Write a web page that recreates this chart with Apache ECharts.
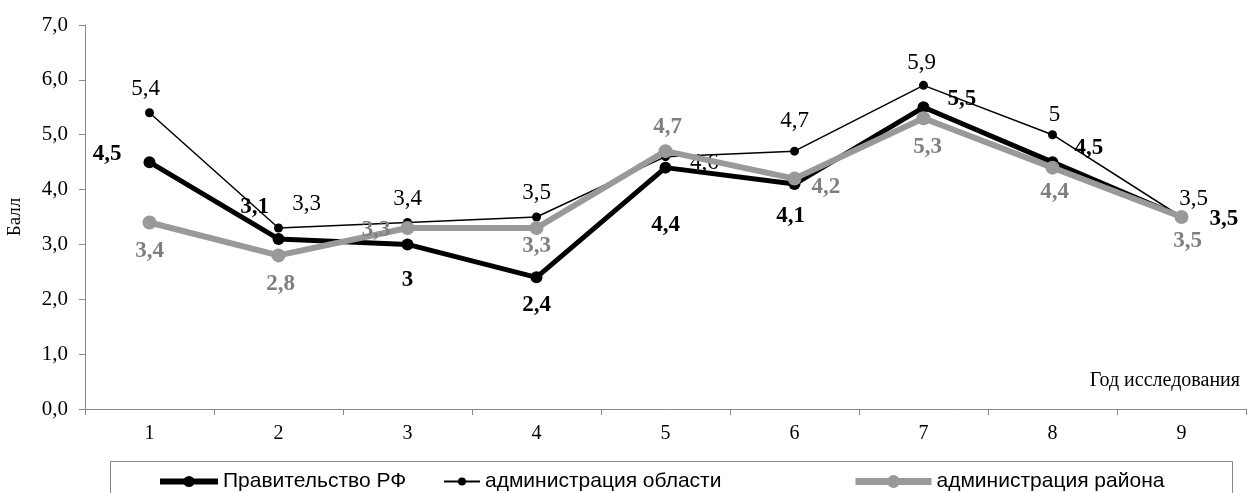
<!DOCTYPE html>
<html>
<head>
<meta charset="utf-8">
<script src="https://cdn.jsdelivr.net/npm/echarts@6/dist/echarts.min.js"></script>
<style>
  html, body { margin: 0; padding: 0; background: #fff; }
  #chart { width: 1253px; height: 493px; }
</style>
</head>
<body>
<div id="chart"></div>
<script>
  // years of the study
  const years = ['1', '2', '3', '4', '5', '6', '7', '8', '9'];
  const seriesNames = ['Правительство РФ', 'администрация области', 'администрация района'];
  const govRF = [4.5, 3.1, 3.0, 2.4, 4.4, 4.1, 5.5, 4.5, 3.5];
  const oblast = [5.4, 3.3, 3.4, 3.5, 4.6, 4.7, 5.9, 5.0, 3.5];
  const rayon = [3.4, 2.8, 3.3, 3.3, 4.7, 4.2, 5.3, 4.4, 3.5];

  // where each point label sits (style only)
  const posGov = ['left', 'top', 'bottom', 'bottom', 'bottom', 'bottom', 'right', 'right', 'right'];
  const posObl = ['top', 'top', 'top', 'top', 'right', 'top', 'top', 'top', 'top'];
  const posRay = ['bottom', 'bottom', 'left', 'bottom', 'top', 'right', 'bottom', 'bottom', 'bottom'];
  const offGov = [[-12, -8], [-24, -4], [0, 8], [0, 0], [0, 30], [-4, 4], [8, -8], [6, -14], [12, 2]];
  const offObl = [[-4, 2], [28, 2], [0, 2], [0, 2], [10, 6], [0, -4], [-2, 4], [2, 6], [12, 8]];
  const offRay = [[0, 0], [2, 0], [0, 2], [0, -10], [2, 4], [0, 8], [4, 0], [2, -4], [6, -4]];

  const fmt = v => String(v).replace('.', ',');
  const serif = '"Liberation Serif", "Times New Roman", serif';
  const sans = '"Liberation Sans", Arial, sans-serif';

  function withLabels(values, pos, off) {
    return values.map((v, i) => ({
      value: v,
      label: { position: pos[i], offset: off[i] }
    }));
  }

  let chart = echarts.init(document.getElementById('chart'));
  let option = {
    animation: false,
    backgroundColor: '#fff',
    grid: { left: 85, right: 7, top: 25, bottom: 84, containLabel: false, outerBoundsMode: 'none' },
    xAxis: {
      type: 'category',
      data: years,
      boundaryGap: true,
      axisLine: { lineStyle: { color: '#888', width: 1 } },
      axisTick: { show: true, length: 6, lineStyle: { color: '#888' } },
      axisLabel: { color: '#000', fontFamily: serif, fontSize: 20, margin: 15 }
    },
    yAxis: {
      type: 'value',
      min: 0,
      max: 7,
      interval: 1,
      name: 'Балл',
      nameLocation: 'middle',
      nameRotate: 90,
      nameGap: 60,
      nameTextStyle: { color: '#000', fontFamily: serif, fontSize: 19 },
      splitLine: { show: false },
      axisLine: { show: true, lineStyle: { color: '#888', width: 1 } },
      axisTick: { show: true, length: 6, lineStyle: { color: '#888' } },
      axisLabel: {
        color: '#000', fontFamily: serif, fontSize: 21, margin: 17,
        formatter: v => v.toFixed(1).replace('.', ',')
      }
    },
    legend: [
      {
        data: [seriesNames[0]], left: 152, top: 466, itemWidth: 58, itemHeight: 14,
        lineStyle: { width: 6 },
        textStyle: { fontFamily: sans, fontSize: 21, color: '#000' }
      },
      {
        data: [seriesNames[1]], left: 438, top: 466, itemWidth: 36, itemHeight: 10,
        lineStyle: { width: 2 },
        textStyle: { fontFamily: sans, fontSize: 21, color: '#000' }
      },
      {
        data: [seriesNames[2]], left: 847, top: 466, itemWidth: 76, itemHeight: 16,
        lineStyle: { width: 7 },
        textStyle: { fontFamily: sans, fontSize: 21, color: '#000' }
      }
    ],
    graphic: [
      {
        type: 'rect',
        shape: { x: 110.5, y: 461.5, width: 1122, height: 40 },
        style: { fill: 'none', stroke: '#888', lineWidth: 1 },
        silent: true
      },
      {
        type: 'text',
        right: 13,
        top: 371,
        style: { text: 'Год исследования', font: '20px ' + serif, fill: '#000' }
      }
    ],
    series: [
      {
        name: seriesNames[0],
        type: 'line',
        data: withLabels(govRF, posGov, offGov),
        z: 3,
        symbol: 'circle',
        symbolSize: 12,
        itemStyle: { color: '#000' },
        lineStyle: { color: '#000', width: 5 },
        label: {
          show: true, distance: 10, formatter: p => fmt(p.value),
          fontFamily: serif, fontSize: 23, fontWeight: 'bold', color: '#000'
        }
      },
      {
        name: seriesNames[1],
        type: 'line',
        data: withLabels(oblast, posObl, offObl),
        z: 2,
        symbol: 'circle',
        symbolSize: 9,
        itemStyle: { color: '#000' },
        lineStyle: { color: '#000', width: 1.5 },
        label: {
          show: true, distance: 10, formatter: p => fmt(p.value),
          fontFamily: serif, fontSize: 23, color: '#000'
        }
      },
      {
        name: seriesNames[2],
        type: 'line',
        data: withLabels(rayon, posRay, offRay),
        z: 4,
        symbol: 'circle',
        symbolSize: 14,
        itemStyle: { color: '#999' },
        lineStyle: { color: '#999', width: 6 },
        label: {
          show: true, distance: 10, formatter: p => fmt(p.value),
          fontFamily: serif, fontSize: 23, fontWeight: 'bold', color: '#7f7f7f'
        }
      }
    ]
  };
  chart.setOption(option);
</script>
</body>
</html>
